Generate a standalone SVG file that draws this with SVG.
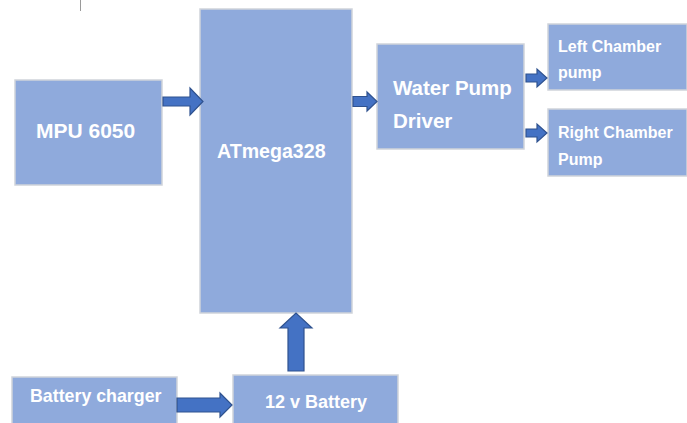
<svg xmlns="http://www.w3.org/2000/svg" width="687" height="423" viewBox="0 0 687 423">
<style>
.box{fill:#8FAADC;stroke:#CFD3DA;stroke-width:1.5}
.lbl{fill:#FFFFFF;font-family:"Liberation Sans",Arial,sans-serif;font-weight:bold}
.arr{fill:#4472C4;stroke:#2F528F;stroke-width:1.2;stroke-linejoin:miter}
</style>
<rect width="687" height="423" fill="#FFFFFF"/>
<line x1="80.5" y1="0" x2="80.5" y2="11" stroke="#9A9A9A" stroke-width="1"/>
<g id="mpu">
<rect class="box" x="15" y="80" width="147" height="105"/>
<text class="lbl" x="36" y="138" font-size="21">MPU 6050</text>
</g>
<g id="atmega">
<rect class="box" x="200" y="9" width="152" height="304"/>
<text class="lbl" x="217" y="158" font-size="19.6">ATmega328</text>
</g>
<g id="driver">
<rect class="box" x="377" y="44" width="147" height="105"/>
<text class="lbl" x="393" y="95" font-size="20.5">Water Pump</text>
<text class="lbl" x="393" y="128" font-size="20.5">Driver</text>
</g>
<g id="leftpump">
<rect class="box" x="548" y="24" width="139" height="66"/>
<text class="lbl" x="558" y="52" font-size="16">Left Chamber</text>
<text class="lbl" x="558" y="78" font-size="16">pump</text>
</g>
<g id="rightpump">
<rect class="box" x="548" y="109" width="139" height="67"/>
<text class="lbl" x="558" y="138" font-size="16">Right Chamber</text>
<text class="lbl" x="558" y="165" font-size="16">Pump</text>
</g>
<g id="charger">
<rect class="box" x="12" y="377" width="165" height="50"/>
<text class="lbl" x="30" y="402" font-size="17.8">Battery charger</text>
</g>
<g id="battery">
<rect class="box" x="233" y="375" width="165" height="52"/>
<text class="lbl" x="265" y="408" font-size="18">12 v Battery</text>
</g>
<g id="connectors">
<polygon class="arr" points="163,97 190,97 190,88 203,101.5 190,115 190,106 163,106"/>
<polygon class="arr" points="353,96.5 367,96.5 367,92 377,101.5 367,111 367,106.5 353,106.5"/>
<polygon class="arr" points="526,74 537,74 537,69 547,78 537,87 537,82 526,82"/>
<polygon class="arr" points="526,129 537,129 537,124 547,133 537,142 537,137 526,137"/>
<polygon class="arr" points="177,398 220,398 220,393 232,405 220,417 220,412 177,412"/>
<polygon class="arr" points="288,371 288,328 280,328 296,313 312,328 304,328 304,371"/>
</g>
</svg>
